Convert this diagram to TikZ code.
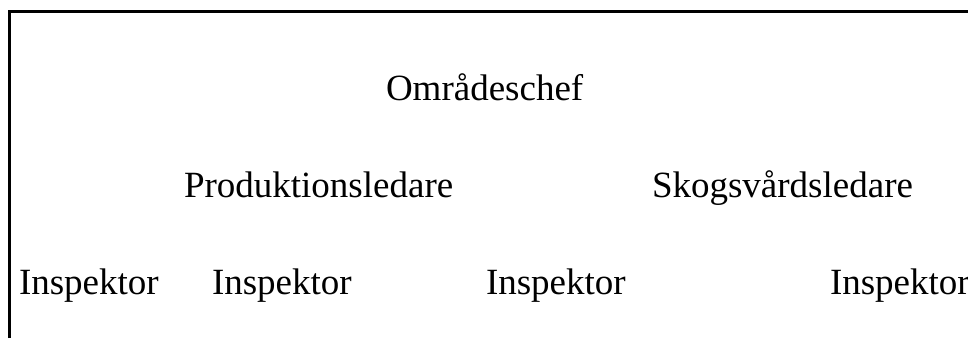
\documentclass[tikz,border=0pt]{standalone}
\usepackage{fontspec}
\setmainfont{Liberation Serif}
\begin{document}
\begin{tikzpicture}[x=1pt,y=-1pt,
  label/.style={anchor=base west,inner sep=0pt,outer sep=0pt,
    font=\fontsize{37}{44}\selectfont}]
\useasboundingbox (0,0) rectangle (968,338);
\clip (0,0) rectangle (968,338);
% frame: left and top edges
\draw[line width=2.8pt,line join=miter] (9.5,338) -- (9.5,11.3) -- (975,11.3);
% titles
\node[label] (chef) at (386,100) {Områdeschef};
\node[label] (prod) at (184,197) {Produktionsledare};
\node[label] (skog) at (652,197) {Skogsvårdsledare};
\node[label] (insA) at (19,294) {Inspektor};
\node[label] (insB) at (212,294) {Inspektor};
\node[label] (insC) at (486,294) {Inspektor};
\node[label] (insD) at (830,294) {Inspektor};
\end{tikzpicture}
\end{document}
